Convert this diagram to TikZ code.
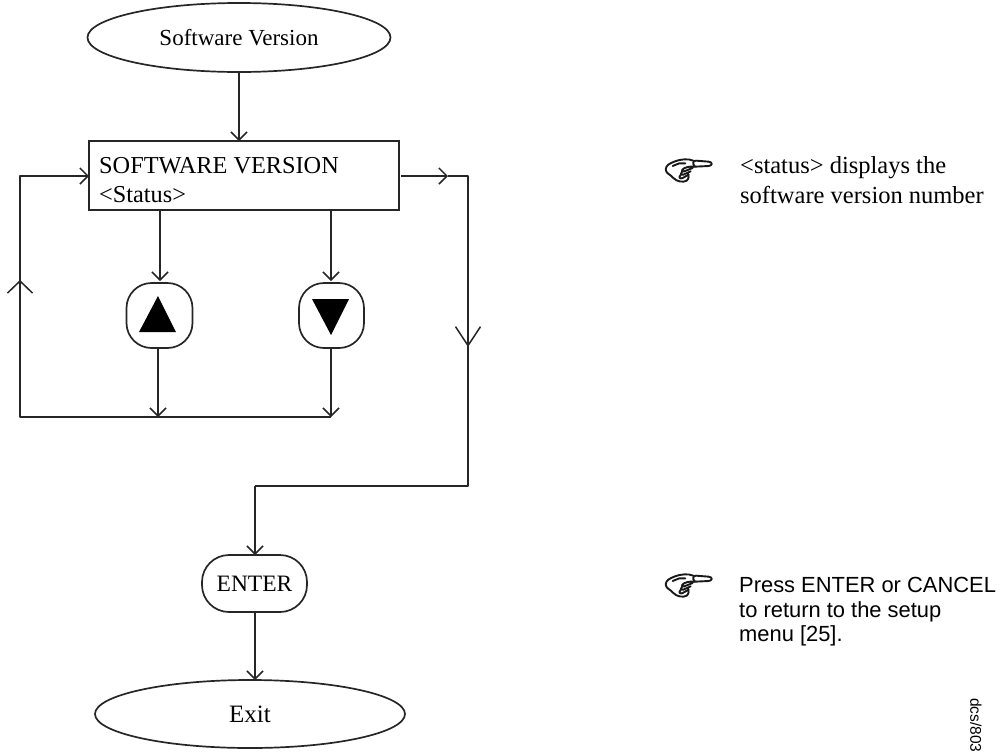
\documentclass[tikz,border=0pt]{standalone}
\usepackage{fontspec}
\setmainfont{Liberation Serif}
\newfontfamily\hsans{Liberation Sans}
\usetikzlibrary{arrows.meta,shapes.geometric}
\tikzset{
  x=1pt,y=-1pt,
  ln/.style={line width=1.7pt,draw=black!85},
  flow/.style={ln,-{Straight Barb[length=8pt,width=16pt,line width=1.5pt]}},
  shorttip/.style={ln,-{Straight Barb[length=12pt,width=25pt,line width=1.5pt]}},
  longtip/.style={ln,-{Straight Barb[length=19pt,width=25pt,line width=1.5pt]}},
  plain/.style={ln},
  oval/.style={ellipse,ln,inner sep=0pt,font=\fontsize{23}{26}\selectfont},
  btn/.style={rectangle,ln,inner sep=0pt},
  txt/.style={anchor=base west,inner sep=0pt,font=\fontsize{24.3}{28}\selectfont},
  note/.style={anchor=base west,inner sep=0pt,font=\fontsize{24.5}{28}\selectfont},
  snote/.style={anchor=base west,inner sep=0pt,font=\hsans\fontsize{21.9}{24}\selectfont},
  tri/.style={fill=black,draw=none},
  handpic/.pic={
    \begin{scope}[x=0.3333pt,y=-0.3333pt,line width=1.9pt,draw=black!90,line join=round,line cap=round]
      \draw (105,80) .. controls (95,70) and (100,62) .. (108,62) -- (146,65)
            .. controls (158,66) and (158,77) .. (146,78) -- (105,80);
      \draw (100,62) .. controls (85,55) and (60,58) .. (45,64)
            .. controls (30,70) and (18,75) .. (17,88)
            .. controls (17,100) and (32,104) .. (40,114)
            .. controls (50,125) and (70,128) .. (80,122)
            .. controls (88,115) and (86,108) .. (84,100);
      \draw (105,80) .. controls (90,78) and (72,82) .. (66,90) .. controls (64,95) and (70,96) .. (78,92) -- (98,84);
      \draw (66,95) .. controls (60,100) and (62,106) .. (70,104) -- (92,94);
      \draw (62,105) .. controls (54,112) and (60,118) .. (68,114) -- (86,104);
      \draw (38,78) -- (58,70) -- (76,70);
    \end{scope}
  }
}
\begin{document}
\begin{tikzpicture}
\useasboundingbox (0,0) rectangle (1002,753);
\node[oval,minimum width=303pt,minimum height=69pt] (start) at (239,37.5) {Software Version};
\node[rectangle,ln,minimum width=310pt,minimum height=69pt,inner sep=0pt] (box) at (244,175.5) {};
\node[txt] (t1) at (99,173) {SOFTWARE VERSION};
\node[txt] (t2) at (99,202) {<Status>};
\node[btn,rounded corners=25pt,minimum width=66pt,minimum height=65pt] (up) at (159.5,315.5) {};
\node[btn,rounded corners=25pt,minimum width=65pt,minimum height=65pt] (down) at (331.5,315.5) {};
\fill[tri] (139,332) -- (176,332) -- (158,296) -- cycle;
\fill[tri] (312,299) -- (349,299) -- (331,335) -- cycle;
\node[btn,rounded corners=27pt,minimum width=105pt,minimum height=57pt,font=\fontsize{23.5}{26}\selectfont] (enter) at (254.5,583.5) {ENTER};
\node[oval,minimum width=310pt,minimum height=68pt,font=\fontsize{25}{28}\selectfont] (exit) at (250,714) {Exit};
\coordinate (a0) at (239,72);
\coordinate (a1) at (239,141);
\draw[flow] (a0) -- (a1);
\coordinate (b1) at (160,210); \coordinate (b2) at (160,281);
\coordinate (c1) at (331,210); \coordinate (c2) at (331,281);
\draw[flow] (b1) -- (b2);
\draw[flow] (c1) -- (c2);
\coordinate (d1) at (158,348); \coordinate (d2) at (158,417);
\coordinate (e1) at (331,348); \coordinate (e2) at (331,417);
\draw[flow] (d1) -- (d2);
\draw[flow] (e1) -- (e2);
\coordinate (loopR) at (331,417);
\coordinate (loopL) at (20,417);
\coordinate (loopM) at (20,280);
\coordinate (loopT) at (20,176);
\coordinate (boxL) at (89,176);
\draw[plain,line join=round] (loopR) -- (loopL) -- (loopM);
\draw[plain,line join=round] (loopM) -- (loopT) -- (boxL);
\draw[shorttip] (loopL) -- (loopM);
\draw[flow] (loopT) -- (boxL);
\coordinate (r0) at (401,176);
\coordinate (r1) at (448,176);
\coordinate (r2) at (468,176);
\coordinate (r3) at (468,347);
\coordinate (r4) at (468,486);
\coordinate (r5) at (255,486);
\coordinate (r6) at (255,555);
\draw[flow] (r0) -- (r1);
\draw[plain,line join=round] (r1) -- (r2) -- (r3);
\draw[longtip] (r2) -- (r3);
\draw[plain,line join=round] (r3) -- (r4) -- (r5);
\draw[flow] (r5) -- (r6);
\coordinate (x0) at (255,612);
\coordinate (x1) at (255,680);
\draw[flow] (x0) -- (x1);
\pic at (660,140) {handpic};
\pic at (660,555) {handpic};
\node[note] (n1) at (740,173) {<status> displays the};
\node[note] (n2) at (740,203) {software version number};
\node[snote] (n3) at (739,592) {Press ENTER or CANCEL};
\node[snote] (n4) at (739,617) {to return to the setup};
\node[snote] (n5) at (739,641) {menu [25].};
\node[anchor=west,rotate=-90,inner sep=0pt,font=\hsans\fontsize{15.5}{16}\selectfont] (dcs) at (976,698) {dcs/803};
\end{tikzpicture}
\end{document}
